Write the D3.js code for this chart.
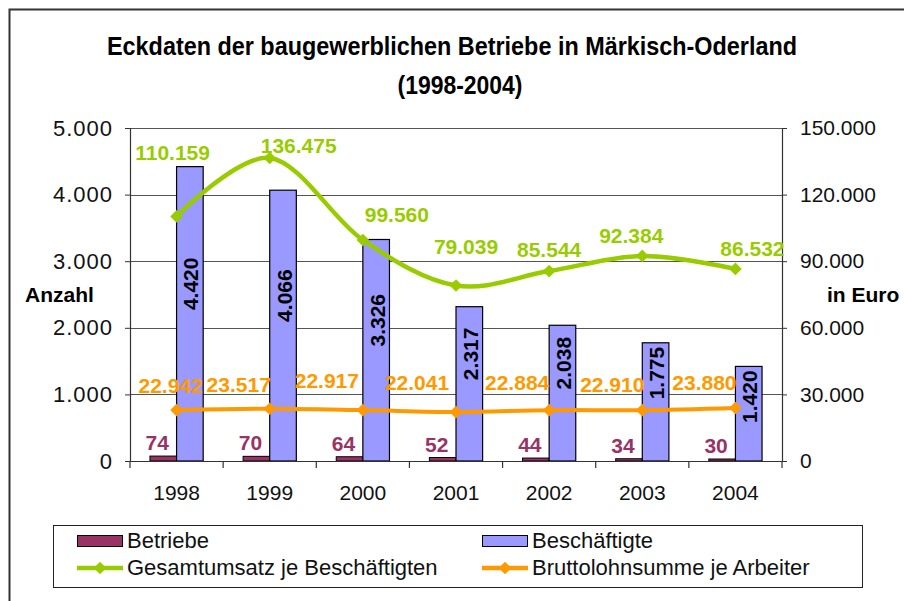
<!DOCTYPE html>
<html>
<head>
<meta charset="utf-8">
<script src="https://cdn.jsdelivr.net/npm/d3@7"></script>
<style>
  body { margin: 0; background: #fff; }
  svg { display: block; }
  text { font-family: "Liberation Sans", Arial, sans-serif; }
</style>
</head>
<body>
<svg id="chart" width="904" height="601"></svg>
<script>
// ---- data ----
const years = ["1998", "1999", "2000", "2001", "2002", "2003", "2004"];
const betriebe = [74, 70, 64, 52, 44, 34, 30];
const beschaeftigte = [4420, 4066, 3326, 2317, 2038, 1775, 1420];
const umsatz = [110159, 136475, 99560, 79039, 85544, 92384, 86532];
const lohn = [22942, 23517, 22917, 22041, 22884, 22910, 23880];
const leftTicks = [0, 1000, 2000, 3000, 4000, 5000];
const rightTicks = [0, 30000, 60000, 90000, 120000, 150000];
const seriesNames = ["Betriebe", "Beschäftigte", "Gesamtumsatz je Beschäftigten", "Bruttolohnsumme je Arbeiter"];
const titleLines = ["Eckdaten der baugewerblichen Betriebe in Märkisch-Oderland", "(1998-2004)"];

// ---- layout (label nudges as placed in the original) ----
const umsatzLabelDx = [-4, 29, 34, 10, 0, -11, 17];
const umsatzLabelDy = [-56, -5, -18, -32, -14, -13, -13];
const lohnLabelDx = [-6, -31, -36, -39, -32, -30, -31];
const lohnLabelDy = [-17, -17, -22, -22, -20, -18, -18];

const colors = { betriebe: "#993366", besch: "#9999FF", umsatz: "#99CC00", lohn: "#FF9900" };

const de = d3.formatLocale({ decimal: ",", thousands: ".", grouping: [3], currency: ["", " €"] });
const fmt = de.format(",d");

const svg = d3.select("#chart");
svg.append("rect").attr("width", 904).attr("height", 601).attr("fill", "#fff");

// outer frame (cropped chart area)
svg.append("path").attr("d", "M9.5,601 V9.5 H904").attr("fill", "none").attr("stroke", "#333").attr("stroke-width", 2);

const plot = { left: 130, right: 782, top: 128, bottom: 461 };

const x = d3.scaleBand().domain(years).range([plot.left, plot.right]).paddingInner(0).paddingOuter(0);
const yL = d3.scaleLinear().domain([0, 5000]).range([plot.bottom, plot.top]);
const yR = d3.scaleLinear().domain([0, 150000]).range([plot.bottom, plot.top]);
const barW = x.bandwidth() / 3.5;
const cx = y => x(y) + x.bandwidth() / 2;

// title
svg.append("text").attr("x", 452).attr("y", 55).attr("text-anchor", "middle")
  .style("font-family", "'Liberation Sans Narrow','Arial Narrow','Liberation Sans',Arial,sans-serif")
  .style("font-weight", "bold").style("font-size", "25px")
  .attr("textLength", 690).attr("lengthAdjust", "spacingAndGlyphs")
  .text(titleLines[0]);
svg.append("text").attr("x", 460).attr("y", 94).attr("text-anchor", "middle")
  .style("font-family", "'Liberation Sans Narrow','Arial Narrow','Liberation Sans',Arial,sans-serif")
  .style("font-weight", "bold").style("font-size", "25px")
  .attr("textLength", 125).attr("lengthAdjust", "spacingAndGlyphs")
  .text(titleLines[1]);

// gridlines
svg.append("g").selectAll("line").data(leftTicks.filter(d => d > 0)).join("line")
  .attr("x1", plot.left).attr("x2", plot.right)
  .attr("y1", d => Math.round(yL(d)) + 0.5).attr("y2", d => Math.round(yL(d)) + 0.5)
  .attr("stroke", "#555").attr("stroke-width", 1);

// bars
const gBars = svg.append("g");
gBars.selectAll("rect.b").data(years).join("rect").attr("class", "b")
  .attr("x", (d) => cx(d) - barW)
  .attr("width", barW)
  .attr("y", (d, i) => yL(betriebe[i]))
  .attr("height", (d, i) => yL(0) - yL(betriebe[i]))
  .attr("fill", colors.betriebe).attr("stroke", "#000").attr("stroke-width", 1);
gBars.selectAll("rect.s").data(years).join("rect").attr("class", "s")
  .attr("x", (d) => cx(d))
  .attr("width", barW)
  .attr("y", (d, i) => yL(beschaeftigte[i]))
  .attr("height", (d, i) => yL(0) - yL(beschaeftigte[i]))
  .attr("fill", colors.besch).attr("stroke", "#000").attr("stroke-width", 1.2);

// axes
const axL = svg.append("g").attr("transform", `translate(${plot.left},0)`)
  .call(d3.axisLeft(yL).tickValues(leftTicks).tickFormat(fmt).tickSize(5).tickPadding(12));
const axR = svg.append("g").attr("transform", `translate(${plot.right},0)`)
  .call(d3.axisRight(yR).tickValues(rightTicks).tickFormat(fmt).tickSize(5).tickPadding(13));
const axB = svg.append("g").attr("transform", `translate(0,${plot.bottom})`)
  .call(d3.axisBottom(x).tickSize(0).tickPadding(24));
[axL, axR, axB].forEach(a => {
  a.select(".domain").attr("stroke", "#333").attr("stroke-width", 1.2);
  a.selectAll(".tick line").attr("stroke", "#333");
  a.selectAll("text").style("font-family", "'Liberation Sans',Arial,sans-serif").style("font-size", "21px").attr("fill", "#111");
});
axL.selectAll("text").style("font-size", "22px").style("letter-spacing", "1px");
axB.select(".domain").attr("d", `M${plot.left},0.5H${plot.right}`);
// category separator ticks
svg.append("g").selectAll("line").data(d3.range(years.length + 1)).join("line")
  .attr("x1", i => plot.left + i * x.bandwidth()).attr("x2", i => plot.left + i * x.bandwidth())
  .attr("y1", plot.bottom).attr("y2", plot.bottom + 7)
  .attr("stroke", "#333").attr("stroke-width", 1.2);

// axis titles
svg.append("text").attr("x", 25).attr("y", 302).style("font-weight", "bold").style("font-size", "21px").text("Anzahl");
svg.append("text").attr("x", 827).attr("y", 302).style("font-weight", "bold").style("font-size", "21px").text("in Euro");

// lines
const lineGen = (vals) => d3.line().x((d, i) => cx(years[i])).y(d => yR(d)).curve(d3.curveCardinal.tension(0))(vals);
svg.append("path").attr("d", lineGen(lohn)).attr("fill", "none").attr("stroke", colors.lohn).attr("stroke-width", 4);
svg.append("path").attr("d", lineGen(umsatz)).attr("fill", "none").attr("stroke", colors.umsatz).attr("stroke-width", 4.5);

const diamond = d3.symbol(d3.symbolSquare, 80);
function markers(vals, color) {
  svg.append("g").selectAll("path").data(vals).join("path")
    .attr("d", diamond)
    .attr("transform", (d, i) => `translate(${cx(years[i])},${yR(d)}) rotate(45)`)
    .attr("fill", color);
}
markers(lohn, colors.lohn);
markers(umsatz, colors.umsatz);

// data labels
const lbl = (sel) => sel.style("font-weight", "bold").style("font-size", "21px").attr("text-anchor", "middle");
svg.append("g").selectAll("text").data(umsatz).join("text").call(lbl)
  .attr("x", (d, i) => cx(years[i]) + umsatzLabelDx[i])
  .attr("y", (d, i) => yR(d) + umsatzLabelDy[i])
  .attr("fill", colors.umsatz).text(d => fmt(d));
svg.append("g").selectAll("text").data(lohn).join("text").call(lbl)
  .attr("x", (d, i) => cx(years[i]) + lohnLabelDx[i])
  .attr("y", (d, i) => yR(d) + lohnLabelDy[i])
  .attr("fill", colors.lohn).text(d => fmt(d));
svg.append("g").selectAll("text").data(betriebe).join("text").call(lbl)
  .attr("x", (d, i) => cx(years[i]) - barW / 2 - 6)
  .attr("y", (d, i) => yL(d) - 6)
  .attr("fill", colors.betriebe).text(d => fmt(d));
// rotated labels inside Beschäftigte bars
const gB = svg.append("g");
beschaeftigte.forEach((v, i) => {
  const bx = cx(years[i]) + barW / 2;
  const t = gB.append("text").call(lbl).attr("fill", "#000").attr("dominant-baseline", "central").text(fmt(v));
  const half = t.node().getComputedTextLength() / 2;
  const yTop = yL(v), mid = (yL(v) + yL(0)) / 2;
  const cy = Math.max(mid - 30, yTop + 4 + half);
  t.attr("transform", `translate(${bx + 1},${cy}) rotate(-90)`);
});

// legend
const lg = svg.append("g");
lg.append("rect").attr("x", 53.5).attr("y", 525.5).attr("width", 809).attr("height", 62)
  .attr("fill", "#fff").attr("stroke", "#222").attr("stroke-width", 1);
const legendItems = [
  { name: seriesNames[0], type: "bar", color: colors.betriebe, col: 0, row: 0 },
  { name: seriesNames[1], type: "bar", color: colors.besch, col: 1, row: 0 },
  { name: seriesNames[2], type: "line", color: colors.umsatz, col: 0, row: 1 },
  { name: seriesNames[3], type: "line", color: colors.lohn, col: 1, row: 1 }
];
legendItems.forEach(it => {
  const lx = it.col === 0 ? 77 : 482;
  const ly = it.row === 0 ? 541 : 568;
  if (it.type === "bar") {
    lg.append("rect").attr("x", lx + 0.5).attr("y", ly - 5.5).attr("width", 45).attr("height", 11)
      .attr("fill", it.color).attr("stroke", "#000").attr("stroke-width", 1);
  } else {
    lg.append("line").attr("x1", lx).attr("x2", lx + 46).attr("y1", ly).attr("y2", ly)
      .attr("stroke", it.color).attr("stroke-width", 4.5);
    lg.append("path").attr("d", diamond).attr("transform", `translate(${lx + 23},${ly}) rotate(45)`).attr("fill", it.color);
  }
  lg.append("text").attr("x", lx + 50).attr("y", ly + 7).style("font-size", "22px").attr("fill", "#111").text(it.name);
});
</script>
</body>
</html>
